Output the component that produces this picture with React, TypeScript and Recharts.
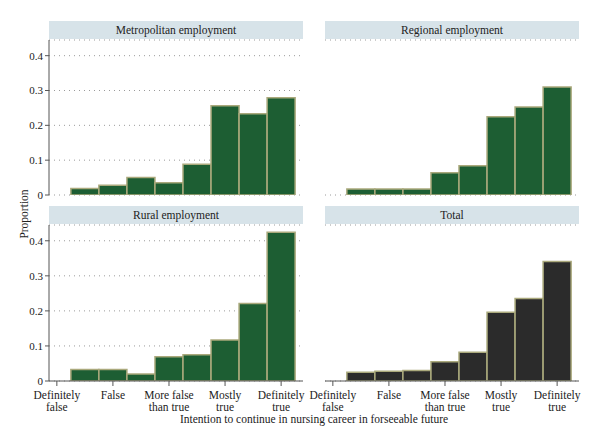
import { BarChart, Bar, XAxis, YAxis, CartesianGrid } from 'recharts';

// response scale 1..9, bars only for 2..9 (1 had no answers)
const scalePoints = [2, 3, 4, 5, 6, 7, 8, 9];
const metropolitan = [0.019, 0.028, 0.05, 0.035, 0.088, 0.256, 0.233, 0.279];
const regional = [0.017, 0.017, 0.017, 0.064, 0.084, 0.225, 0.253, 0.31];
const rural = [0.033, 0.033, 0.02, 0.069, 0.075, 0.117, 0.221, 0.424];
const total = [0.025, 0.028, 0.03, 0.055, 0.082, 0.196, 0.235, 0.341];

const xTicks = [1, 3, 5, 7, 9];
const xTickLabels = [
  ['Definitely', 'false'],
  ['False'],
  ['More false', 'than true'],
  ['Mostly', 'true'],
  ['Definitely', 'true'],
];
const yTicks = [0, 0.1, 0.2, 0.3, 0.4];

const W = 600;
const H = 446;
const FONT = '"Liberation Serif", "DejaVu Serif", serif';
const GREEN = '#1d5e33';
const DARK = '#2b2b2b';
const EDGE = '#aaa97c';
const HEADER = '#d7e3e9';

const toRows = (values: number[]) => scalePoints.map((x, i) => ({ x, p: values[i] }));

const XTick = (props: any) => {
  const { x, y, payload } = props;
  const idx = xTicks.indexOf(payload.value);
  const lines = xTickLabels[idx] || [];
  return (
    <text x={x} y={y} textAnchor="middle" fontFamily={FONT} fontSize={11.5} fill="#222">
      {lines.map((l, i) => (
        <tspan key={i} x={x} dy={i === 0 ? 11 : 12}>
          {l}
        </tspan>
      ))}
    </text>
  );
};

interface PanelProps {
  title: string;
  values: number[];
  color: string;
  left: number;
  top: number;
  showY: boolean;
  showX: boolean;
}

function Panel({ title, values, color, left, top, showY, showX }: PanelProps) {
  const plotW = 254;
  const headerH = 18;
  const plotTop = top + headerH + 1;
  const plotBottom = showX ? plotTop + 156 : plotTop + 155;
  return (
    <>
      <div
        style={{
          position: 'absolute',
          left,
          top,
          width: plotW,
          height: headerH,
          background: HEADER,
          fontFamily: FONT,
          fontSize: 11.5,
          color: '#222',
          textAlign: 'center',
          lineHeight: `${headerH}px`,
        }}
      >
        {title}
      </div>
      <div style={{ position: 'absolute', left: 0, top: 0 }}>
        <BarChart
          width={W}
          height={H}
          data={toRows(values)}
          margin={{
            top: plotTop,
            right: W - left - plotW,
            bottom: showX ? 0 : H - plotBottom,
            left: showY ? 0 : left,
          }}
        >
          <CartesianGrid vertical={false} stroke="#9a9a9a" strokeDasharray="1 4" />
          <XAxis
            dataKey="x"
            type="number"
            domain={[0.72, 9.78]}
            ticks={xTicks}
            interval={0}
            hide={!showX}
            height={H - plotBottom}
            stroke="#555"
            tickLine={{ stroke: '#555' }}
            tickSize={5}
            tick={<XTick />}
            allowDataOverflow
          />
          <YAxis
            domain={[0, 0.445]}
            ticks={yTicks}
            width={showY ? left : 0}
            allowDataOverflow
            axisLine={showY ? { stroke: '#555' } : false}
            tickLine={showY ? { stroke: '#555' } : false}
            tickSize={4}
            tick={showY ? { fontFamily: FONT, fontSize: 11, fill: '#222' } : false}
            tickFormatter={(v: number) => (v === 0 ? '0' : v.toFixed(1))}
          />
          <Bar
            dataKey="p"
            fill={color}
            stroke={EDGE}
            strokeWidth={1.5}
            barSize={28}
            isAnimationActive={false}
          />
        </BarChart>
      </div>
    </>
  );
}

export default function App() {
  return (
    <div
      style={{
        position: 'absolute',
        left: 0,
        top: 0,
        width: W,
        height: H,
        background: '#fff',
        overflow: 'hidden',
      }}
    >
      <Panel title="Metropolitan employment" values={metropolitan} color={GREEN} left={49} top={21} showY showX={false} />
      <Panel title="Regional employment" values={regional} color={GREEN} left={325} top={21} showY={false} showX={false} />
      <Panel title="Rural employment" values={rural} color={GREEN} left={49} top={206} showY showX />
      <Panel title="Total" values={total} color={DARK} left={325} top={206} showY={false} showX />
      <div
        style={{
          position: 'absolute',
          left: 24,
          top: 214,
          transform: 'translate(-50%, -50%) rotate(-90deg)',
          fontFamily: FONT,
          fontSize: 11.5,
          color: '#222',
          whiteSpace: 'nowrap',
        }}
      >
        Proportion
      </div>
      <div
        style={{
          position: 'absolute',
          left: 314,
          top: 419,
          transform: 'translate(-50%, -50%)',
          fontFamily: FONT,
          fontSize: 11.5,
          color: '#222',
          whiteSpace: 'nowrap',
        }}
      >
        Intention to continue in nursing career in forseeable future
      </div>
    </div>
  );
}
